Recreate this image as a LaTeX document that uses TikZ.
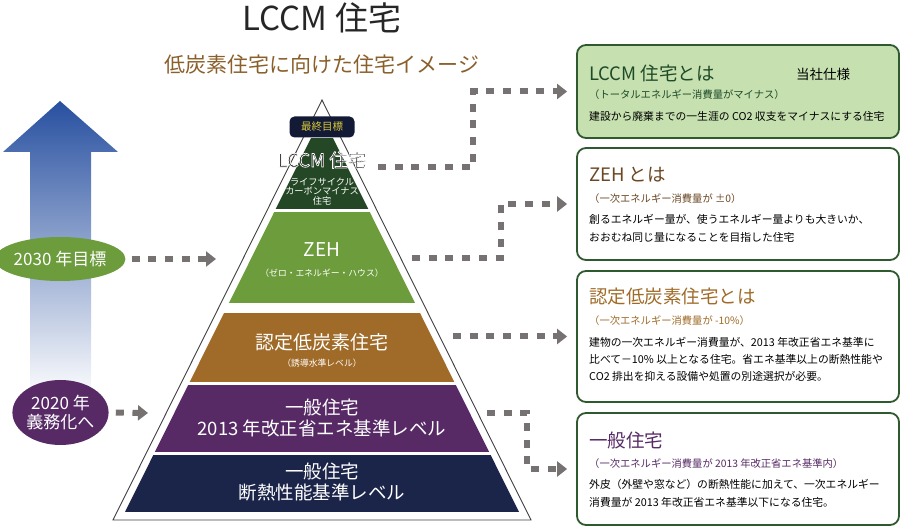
\documentclass[tikz,border=0pt]{standalone}
\usepackage{fontspec}
\setmainfont{Noto Sans CJK JP}
\usetikzlibrary{arrows.meta,shapes.geometric,calc}

\definecolor{dkgreen}{HTML}{244725}
\definecolor{zehgreen}{HTML}{6C9C3C}
\definecolor{lowbrown}{HTML}{A06B28}
\definecolor{genpurple}{HTML}{572A66}
\definecolor{basenavy}{HTML}{1B2449}
\definecolor{badgenavy}{HTML}{121A35}
\definecolor{badgeyellow}{HTML}{D8C83C}
\definecolor{dotgray}{HTML}{777272}
\definecolor{boxgreen}{HTML}{2F5A30}
\definecolor{boxfill}{HTML}{C6E0B0}
\definecolor{subbrown}{HTML}{8A5F2A}
\definecolor{zehbrown}{HTML}{6B4723}
\definecolor{arrowblue}{HTML}{2850A0}
\definecolor{lccmhead}{HTML}{1E4A28}

\newcommand{\fsz}[2][1.2]{\fontsize{#2}{#1\dimexpr #2pt\relax}\selectfont}
% white outline round the glyphs (fill + stroke render mode)
\newcommand{\haloon}{\special{pdf:literal direct 1 1 1 RG 0.7 w 1 j 2 Tr}}

\begin{document}
\begin{tikzpicture}[x=1pt, y=-1pt,
    conn/.style={draw=dotgray, line width=6pt, dash pattern=on 8pt off 8.7pt,
      -{Triangle[length=10pt,width=15pt]}},
    infobox/.style={draw=boxgreen, line width=1.8pt, rounded corners=9pt,
      minimum width=322pt, inner sep=0pt},
    layertext/.style={text=white, align=center, inner sep=0pt},
    bodytext/.style={anchor=west, align=left, inner sep=0pt,
      font=\fontsize{10.8}{18.5}\selectfont},
    headtext/.style={anchor=west, inner sep=0pt, font=\fsz{18.5}},
    notetext/.style={anchor=west, inner sep=0pt, font=\fsz{10.3}}]
  \useasboundingbox (0,0) rectangle (900,526);

  % titles
  \node[font=\fsz{33}, text=black!85] (title) at (322,18) {LCCM 住宅};
  \node[font=\fsz{21}, text=subbrown] (sub) at (322,65) {低炭素住宅に向けた住宅イメージ};

  % time arrow
  \shade[top color=arrowblue, bottom color=white, middle color=arrowblue!50]
    (60,101) -- (118,152) -- (91,152) -- (91,400) -- (30,400) -- (30,152) -- (3,152) -- cycle;
  \node[ellipse, fill=zehgreen, minimum width=118pt, minimum height=44pt, inner sep=0pt,
    text=white, font=\fsz{17}] (y2030) at (60,259) {2030 年目標};
  \node[ellipse, fill=genpurple, minimum width=91pt, minimum height=65pt, inner sep=0pt,
    text=white, align=center, font=\fontsize{17}{19}\selectfont] (y2020) at (60.5,412.5) {2020 年\\義務化へ};
  \coordinate (t2030) at (216,259);
  \coordinate (t2020) at (148,413);
  \draw[conn] ([xshift=6pt]y2030.east) -- (t2030);
  \draw[conn] ([xshift=7pt]y2020.east) -- (t2020);

  % pyramid
  \draw[draw=black!75, line width=0.9pt, fill=white] (113,520) -- (322,100) -- (531,520) -- cycle;
  \begin{scope}
    \clip (125,512) -- (322,116) -- (519,512) -- cycle;
    \fill[dkgreen] (100,138) rectangle (540,209);
    \fill[zehgreen] (100,212) rectangle (540,303);
    \fill[lowbrown] (100,313) rectangle (540,382);
    \fill[genpurple] (100,385) rectangle (540,452);
    \fill[basenavy] (100,455) rectangle (540,512);
  \end{scope}

  \node[fill=badgenavy, rounded corners=5pt, minimum width=65pt, minimum height=21pt,
    inner sep=0pt, text=badgeyellow, font=\fsz{10.5}] (goal) at (322,127) {最終目標};
  \node[text=black!85, inner sep=0pt, font=\fsz{18.5}] (lccm) at (322,160) {\haloon LCCM 住宅};
  \node[layertext, font=\fontsize{9.2}{9.8}\selectfont] (lcs) at (322,191.5) {ライフサイクル\\カーボンマイナス\\住宅};
  \node[layertext, font=\fsz{19}] (zeh) at (322,250) {ZEH};
  \node[layertext, font=\fsz{8.8}] (zehs) at (322,273) {（ゼロ・エネルギー・ハウス）};
  \node[layertext, font=\fsz{19}] (low) at (322,342) {認定低炭素住宅};
  \node[layertext, font=\fsz{8.8}] (lows) at (322,363) {（誘導水準レベル）};
  \node[layertext, font=\fontsize{18.5}{21.5}\selectfont] (gen) at (322,418) {一般住宅\\2013 年改正省エネ基準レベル};
  \node[layertext, font=\fontsize{18.5}{21.5}\selectfont] (base) at (322,482) {一般住宅\\断熱性能基準レベル};

  % info boxes
  \node[infobox, fill=boxfill, minimum height=93pt] (b1) at (738,91.5) {};
  \node[infobox, fill=white, minimum height=112pt] (b2) at (738,204) {};
  \node[infobox, fill=white, minimum height=131pt] (b3) at (738,336.5) {};
  \node[infobox, fill=white, minimum height=112pt] (b4) at (738,469) {};

  \node[headtext, text=lccmhead] (h1) at (589,73) {LCCM 住宅とは};
  \node[anchor=west, inner sep=0pt, font=\fsz{13.5}] (own) at (796,74) {当社仕様};
  \node[notetext, text=lccmhead] (n1) at (589,95) {（トータルエネルギー消費量がマイナス）};
  \node[bodytext] (p1) at (589,116) {建設から廃棄までの一生涯の CO2 収支をマイナスにする住宅};

  \node[headtext, text=zehbrown] (h2) at (589,175) {ZEH とは};
  \node[notetext, text=zehbrown] (n2) at (589,199) {（一次エネルギー消費量が ±0）};
  \node[bodytext] (p2) at (589,228.5) {創るエネルギー量が、使うエネルギー量よりも大きいか、\\おおむね同じ量になることを目指した住宅};

  \node[headtext, text=lowbrown] (h3) at (589,297) {認定低炭素住宅とは};
  \node[notetext, text=lowbrown] (n3) at (589,321) {（一次エネルギー消費量が -10\%）};
  \node[bodytext, font=\fontsize{10.8}{17}\selectfont] (p3) at (589,359.5) {建物の一次エネルギー消費量が、2013 年改正省エネ基準に\\比べて－10\% 以上となる住宅。省エネ基準以上の断熱性能や\\CO2 排出を抑える設備や処置の別途選択が必要。};

  \node[headtext, text=genpurple] (h4) at (589,440) {一般住宅};
  \node[notetext, text=genpurple] (n4) at (589,464) {（一次エネルギー消費量が 2013 年改正省エネ基準内）};
  \node[bodytext, font=\fontsize{10.8}{17.5}\selectfont] (p4) at (589,493.5) {外皮（外壁や窓など）の断熱性能に加えて、一次エネルギー\\消費量が 2013 年改正省エネ基準以下になる住宅。};

  % connectors
  \coordinate (c1) at (378,167);
  \coordinate (c2) at (412,258);
  \coordinate (c3) at (453,336.5);
  \coordinate (c4) at (487,413);
  \draw[conn] (c1) -- ++(95,0) |- ([xshift=-9pt]b1.west);
  \draw[conn] (c2) -- ++(89,0) |- ([xshift=-9pt]b2.west);
  \draw[conn] (c3) -- ([xshift=-9pt]b3.west);
  \draw[conn] (c4) -- ++(40,0) |- ([xshift=-9pt]b4.west);
\end{tikzpicture}
\end{document}
